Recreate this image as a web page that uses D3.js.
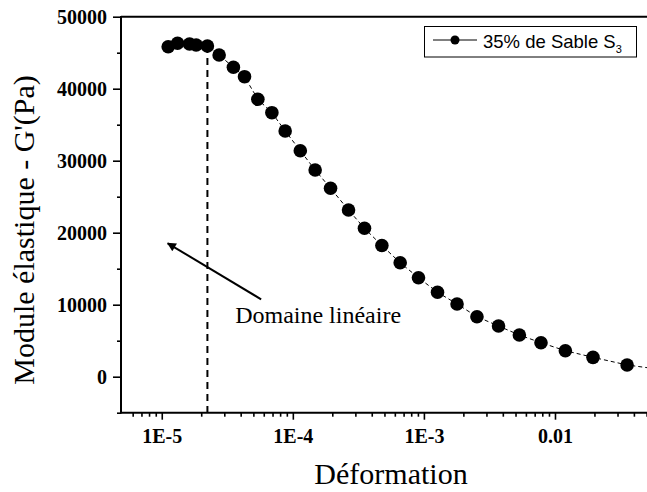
<!DOCTYPE html>
<html>
<head>
<meta charset="utf-8">
<script src="https://cdn.jsdelivr.net/npm/d3@7"></script>
<style>
  html, body { margin: 0; padding: 0; background: #fff; }
  svg { display: block; }
</style>
</head>
<body>
<svg id="chart" width="647" height="492"></svg>
<script>
// ---- data ----
const strain = [1.12e-5, 1.32e-5, 1.63e-5, 1.83e-5, 2.23e-5, 2.74e-5, 3.52e-5, 4.28e-5, 5.41e-5, 6.92e-5,
  8.74e-5, 1.14e-4, 1.48e-4, 1.94e-4, 2.66e-4, 3.52e-4, 4.78e-4, 6.59e-4, 9.09e-4, 1.27e-3,
  1.79e-3, 2.54e-3, 3.71e-3, 5.35e-3, 7.82e-3, 1.20e-2, 1.95e-2, 3.55e-2, 6.4e-2];
const modulus = [45830, 46310, 46210, 46070, 45930, 44680, 42970, 41670, 38530, 36670,
  34130, 31390, 28710, 26170, 23150, 20610, 18220, 15830, 13750, 11720,
  10100, 8330, 7040, 5790, 4720, 3610, 2690, 1630, 1000];
const xMajorTicks = [1e-5, 1e-4, 1e-3, 1e-2];
const xTickLabels = ["1E-5", "1E-4", "1E-3", "0.01"];
const yMajorTicks = [0, 10000, 20000, 30000, 40000, 50000];
const yTickLabels = ["0", "10000", "20000", "30000", "40000", "50000"];
const linearLimit = 2.23e-5;      // end of linear domain
const arrowFrom = [5.73e-5, 10750];
const arrowTo = [1.11e-5, 18530];
const annotationPos = [3.63e-5, 7420];
const annotationText = "Domaine linéaire";
const seriesName = "35% de Sable S";
const seriesSub = "3";
const xTitle = "Déformation";
const yTitle = "Module élastique - G'(Pa)";

(function () {
// ---- layout ----
const W = 647, H = 492;
const pL = 121, pR = 646.6, pT = 16.7, pB = 412.7;
const serif = "'Liberation Serif', 'Times New Roman', Times, serif";

const svg = d3.select("#chart");
svg.append("rect").attr("width", W).attr("height", H).attr("fill", "#fff");

const x = d3.scaleLog().domain([5e-6, 0.05]).range([122.3, pR]);
const y = d3.scaleLinear().domain([-5000, 50000]).range([pB, pT]);

const defs = svg.append("defs");
defs.append("clipPath").attr("id", "clip")
  .append("rect").attr("x", pL).attr("y", pT - 10).attr("width", W - pL).attr("height", pB - pT + 10);

defs.append("marker")
  .attr("id", "arrowhead").attr("viewBox", "0 0 10 10")
  .attr("refX", 9).attr("refY", 5)
  .attr("markerWidth", 6).attr("markerHeight", 4.5).attr("orient", "auto")
  .attr("markerUnits", "strokeWidth")
  .append("path").attr("d", "M0,0 L10,5 L0,10 Z").attr("fill", "#000");

// ---- x axis ----
const xMinor = [];
for (let e = -6; e <= -2; e++) {
  for (let m = 2; m <= 9; m++) {
    const v = m * Math.pow(10, e);
    if (v >= 5e-6 && v <= 0.05) xMinor.push(v);
  }
}
const xAxisMinor = d3.axisBottom(x).tickValues(xMinor).tickSize(4).tickFormat("");
const xAxisMajor = d3.axisBottom(x).tickValues(xMajorTicks).tickSize(7)
  .tickPadding(9).tickFormat((d, i) => xTickLabels[i]);

const gxm = svg.append("g").attr("transform", `translate(0,${pB})`).call(xAxisMinor);
const gx = svg.append("g").attr("transform", `translate(0,${pB})`).call(xAxisMajor);
[gxm, gx].forEach(g => {
  g.select(".domain").remove();
  g.selectAll(".tick line").attr("stroke", "#000").attr("stroke-width", 1.6);
});
gx.selectAll(".tick text")
  .attr("font-family", serif)
  .attr("font-weight", "bold").attr("font-size", 20).attr("fill", "#000")
  .attr("dy", "0.71em");

// ---- y axis ----
const yMinor = d3.range(-5000, 50001, 5000).filter(v => v % 10000 !== 0);
const yAxisMinor = d3.axisLeft(y).tickValues(yMinor).tickSize(4).tickFormat("");
const yAxisMajor = d3.axisLeft(y).tickValues(yMajorTicks).tickSize(8)
  .tickPadding(6).tickFormat((d, i) => yTickLabels[i]);
const gym = svg.append("g").attr("transform", `translate(${pL},0)`).call(yAxisMinor);
const gy = svg.append("g").attr("transform", `translate(${pL},0)`).call(yAxisMajor);
[gym, gy].forEach(g => {
  g.select(".domain").remove();
  g.selectAll(".tick line").attr("stroke", "#000").attr("stroke-width", 1.6);
});
gy.selectAll(".tick text")
  .attr("font-family", serif)
  .attr("font-weight", "bold").attr("font-size", 20).attr("fill", "#000");

// ---- frame lines ----
svg.append("line").attr("x1", pL).attr("x2", pL).attr("y1", pT - 0.8).attr("y2", pB + 0.8)
  .attr("stroke", "#000").attr("stroke-width", 2);
svg.append("line").attr("x1", pL).attr("x2", W).attr("y1", pB).attr("y2", pB)
  .attr("stroke", "#000").attr("stroke-width", 2);
svg.append("line").attr("x1", pL).attr("x2", W).attr("y1", pT).attr("y2", pT)
  .attr("stroke", "#000").attr("stroke-width", 2);

// ---- axis titles ----
svg.append("text").attr("x", 391).attr("y", 484).attr("text-anchor", "middle")
  .attr("font-family", serif)
  .attr("font-size", 30).attr("fill", "#000").text(xTitle);
svg.append("text").attr("transform", "translate(34,230) rotate(-90)").attr("text-anchor", "middle")
  .attr("font-family", serif)
  .attr("font-size", 30).attr("fill", "#000").text(yTitle);

// ---- linear-domain line ----
const limitIdx = strain.indexOf(linearLimit);
svg.append("line")
  .attr("x1", x(linearLimit)).attr("x2", x(linearLimit))
  .attr("y1", y(modulus[limitIdx])).attr("y2", pB)
  .attr("stroke", "#000").attr("stroke-width", 2).attr("stroke-dasharray", "7,5");

// ---- series ----
const pts = strain.map((s, i) => ({ s, g: modulus[i] }));
const plot = svg.append("g").attr("clip-path", "url(#clip)");
plot.append("path").datum(pts)
  .attr("d", d3.line().x(d => x(d.s)).y(d => y(d.g)))
  .attr("fill", "none").attr("stroke", "#000").attr("stroke-width", 1)
  .attr("stroke-dasharray", "4,3");
plot.selectAll("circle.pt").data(pts).enter().append("circle")
  .attr("class", "pt")
  .attr("cx", d => x(d.s)).attr("cy", d => y(d.g)).attr("r", 6.8).attr("fill", "#000");

// ---- annotation ----
svg.append("line")
  .attr("x1", x(arrowFrom[0])).attr("y1", y(arrowFrom[1]))
  .attr("x2", x(arrowTo[0])).attr("y2", y(arrowTo[1]))
  .attr("stroke", "#000").attr("stroke-width", 2).attr("marker-end", "url(#arrowhead)");
svg.append("text").attr("x", x(annotationPos[0])).attr("y", y(annotationPos[1]))
  .attr("font-family", serif)
  .attr("font-size", 24).attr("fill", "#000").text(annotationText);

// ---- legend ----
const lg = svg.append("g");
lg.append("rect").attr("x", 424.5).attr("y", 26.5).attr("width", 212).attr("height", 30.5)
  .attr("fill", "#fff").attr("stroke", "#000").attr("stroke-width", 1);
lg.append("line").attr("x1", 433).attr("x2", 477).attr("y1", 40).attr("y2", 40)
  .attr("stroke", "#000").attr("stroke-width", 1);
lg.append("circle").attr("cx", 455).attr("cy", 40).attr("r", 4.5).attr("fill", "#000");
const lt = lg.append("text").attr("x", 483).attr("y", 48)
  .attr("font-family", "'Liberation Sans', Arial, sans-serif")
  .attr("font-size", 18.5).attr("fill", "#000");
lt.append("tspan").text(seriesName);
lt.append("tspan").attr("font-size", 11).attr("dy", 5).text(seriesSub);
})();
</script>
</body>
</html>
